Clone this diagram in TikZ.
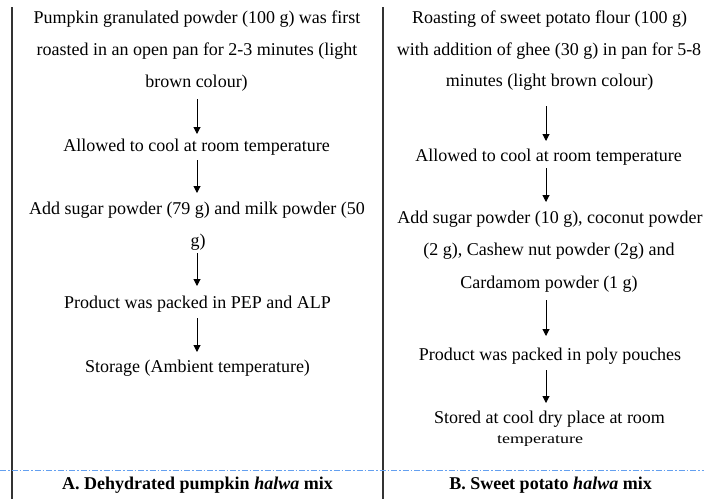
\documentclass[tikz,border=0pt]{standalone}
\usepackage{fontspec}
\setmainfont{Liberation Serif}
\usetikzlibrary{arrows.meta}
\definecolor{sepblue}{RGB}{100,160,240}
\tikzset{
  txt/.style={inner sep=0pt, anchor=base, font=\fontsize{18}{18}\selectfont},
  captxt/.style={inner sep=0pt, anchor=base, font=\bfseries\fontsize{18}{18}\selectfont},
  flow/.style={draw=black, line width=1pt, -{Triangle[length=7pt,width=7pt]}},
  vline/.style={draw=black!80, line width=1.2pt},
  sep/.style={draw=sepblue, line width=0.8pt, dash pattern=on 6pt off 2pt on 1.5pt off 2pt},
}
\begin{document}
\begin{tikzpicture}[x=1pt,y=-1pt]
\useasboundingbox (0,0) rectangle (704,499);
% column lines
\coordinate (l1) at (12,7); \coordinate (l2) at (12,499);
\coordinate (m1) at (383,7); \coordinate (m2) at (383,499);
\draw[vline] (l1) -- (l2);
\draw[vline] (m1) -- (m2);
\coordinate (s1) at (0,470); \coordinate (s2) at (704,470);
\draw[sep] (s1) -- (s2);
% left column
\node[txt] (a1) at (197,23) {Pumpkin granulated powder (100 g) was first};
\node[txt] (a2) at (197,55) {roasted in an open pan for 2-3 minutes (light};
\node[txt] (a3) at (196.5,87) {brown colour)};
\node[txt] (a4) at (196.5,151) {Allowed to cool at room temperature};
\node[txt] (a5) at (197,214) {Add sugar powder (79 g) and milk powder (50};
\node[txt] (a6) at (198,246) {g)};
\node[txt] (a7) at (197.5,308) {Product was packed in PEP and ALP};
\node[txt] (a8) at (197.5,372) {Storage (Ambient temperature)};
\coordinate (ar1s) at (197,99); \coordinate (ar1e) at (197,134);
\coordinate (ar2s) at (197,160); \coordinate (ar2e) at (197,193);
\coordinate (ar3s) at (197,253); \coordinate (ar3e) at (197,286);
\coordinate (ar4s) at (197,318); \coordinate (ar4e) at (197,352);
\draw[flow] (ar1s) -- (ar1e);
\draw[flow] (ar2s) -- (ar2e);
\draw[flow] (ar3s) -- (ar3e);
\draw[flow] (ar4s) -- (ar4e);
% right column
\node[txt] (b1) at (549.5,23) {Roasting of sweet potato flour (100 g)};
\node[txt] (b2) at (549,55) {with addition of ghee (30 g) in pan for 5-8};
\node[txt] (b3) at (549.5,86) {minutes (light brown colour)};
\node[txt] (b4) at (548.5,161) {Allowed to cool at room temperature};
\node[txt] (b5) at (550,223) {Add sugar powder (10 g), coconut powder};
\node[txt] (b6) at (549,255) {(2 g), Cashew nut powder (2g) and};
\node[txt] (b7) at (549,288) {Cardamom powder (1 g)};
\node[txt] (b8) at (550,360) {Product was packed in poly pouches};
\node[txt] (b9) at (549.5,423) {Stored at cool dry place at room};
\node[txt, yscale=0.78] (b10) at (540,443) {temperature};
\coordinate (br1s) at (546,106); \coordinate (br1e) at (546,141);
\coordinate (br2s) at (546,168); \coordinate (br2e) at (546,202);
\coordinate (br3s) at (546,300); \coordinate (br3e) at (546,336);
\coordinate (br4s) at (546,370); \coordinate (br4e) at (546,403);
\draw[flow] (br1s) -- (br1e);
\draw[flow] (br2s) -- (br2e);
\draw[flow] (br3s) -- (br3e);
\draw[flow] (br4s) -- (br4e);
% captions
\node[captxt] (c1) at (197.5,489) {A. Dehydrated pumpkin \textit{halwa} mix};
\node[captxt] (c2) at (550.5,489) {B. Sweet potato \textit{halwa} mix};
\end{tikzpicture}
\end{document}
